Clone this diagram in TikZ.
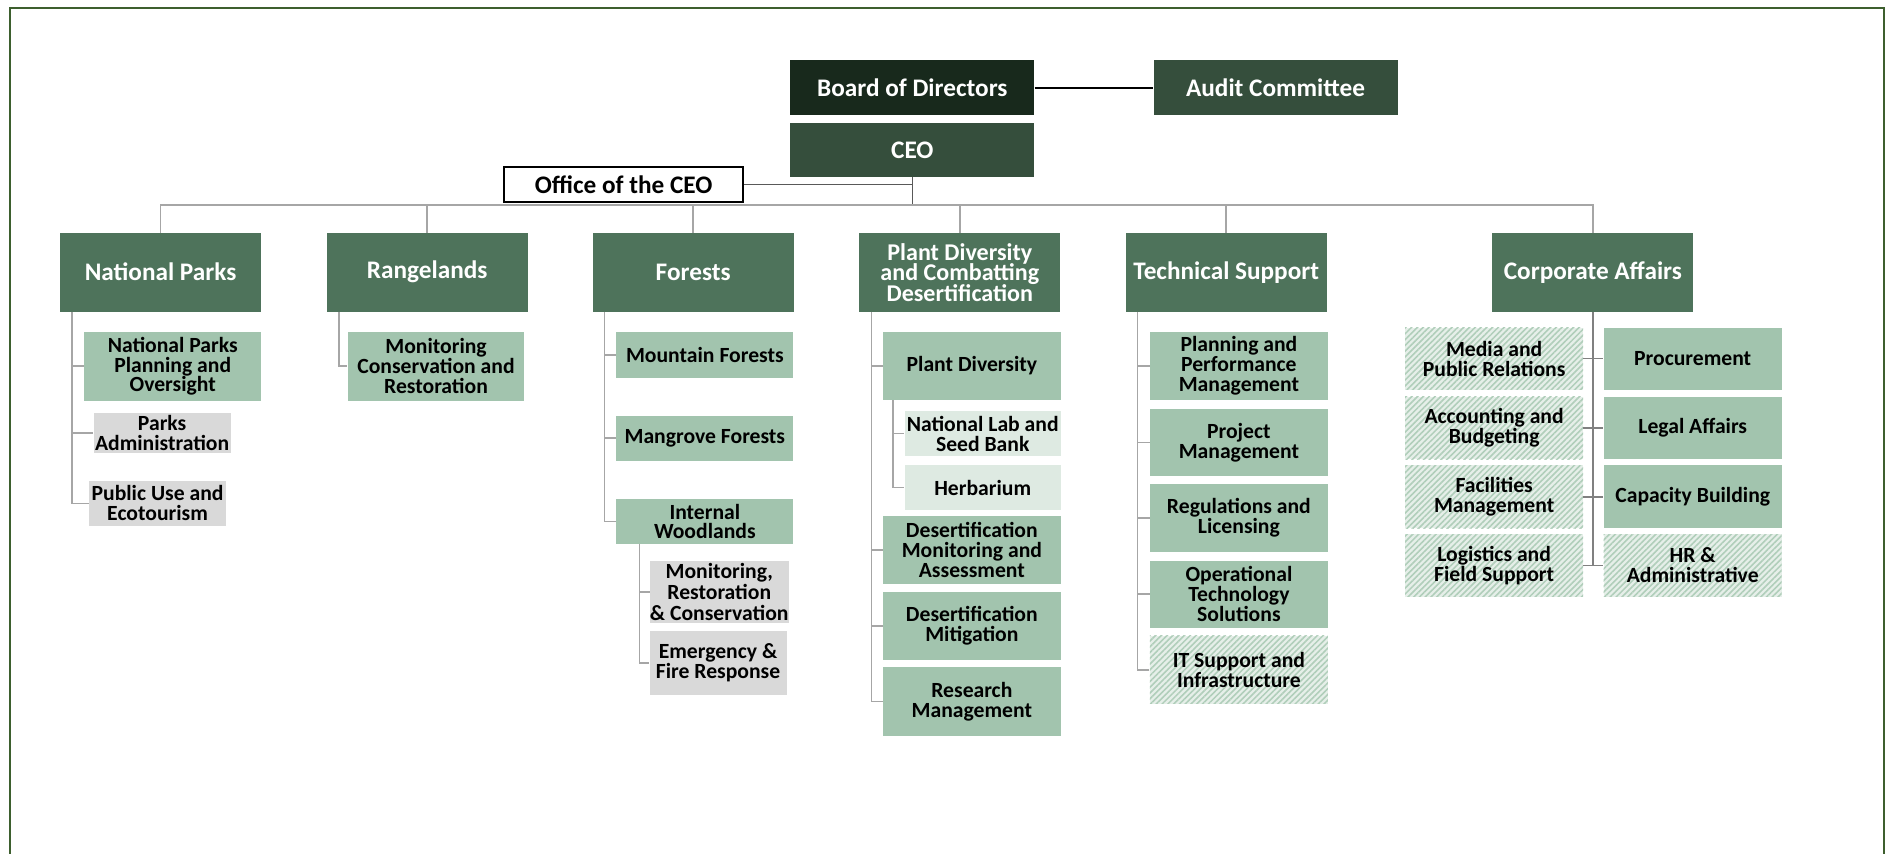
\documentclass[tikz,border=0pt]{standalone}
\usepackage{fontspec}
\setmainfont{Carlito}
\usetikzlibrary{patterns.meta}

\definecolor{boardgreen}{HTML}{18291C}
\definecolor{ceogreen}{HTML}{354E3C}
\definecolor{deptgreen}{HTML}{4E735B}
\definecolor{subgreen}{HTML}{A2C4AE}
\definecolor{palegreen}{HTML}{DEEAE2}
\definecolor{hatchbg}{HTML}{E6EFE9}
\definecolor{hatchline}{HTML}{B0CEBA}
\definecolor{treegrey}{HTML}{A6A6A6}
\definecolor{framegreen}{HTML}{3D5F2E}

\newcommand{\subfont}{\bfseries\fontsize{18}{16.5}\selectfont\lineskiplimit=-20pt\relax}
\newcommand{\deptfont}{\bfseries\fontsize{21}{17.5}\selectfont\lineskiplimit=-20pt\relax}
\newcommand{\pdfont}{\bfseries\fontsize{20}{17}\selectfont\lineskiplimit=-20pt\relax}
\newcommand{\monfont}{\bfseries\fontsize{18}{17.5}\selectfont\lineskiplimit=-20pt\relax}

\begin{document}
\begin{tikzpicture}[x=1pt,y=-1pt,
  every node/.style={inner sep=0pt, align=center, font=\subfont},
  topbox/.style={fill=ceogreen, text=white, minimum width=203pt, minimum height=45.6pt, font=\deptfont},
  dept/.style={fill=deptgreen, text=white, minimum width=167pt, minimum height=65.4pt, font=\deptfont},
  subbox/.style={fill=subgreen, minimum width=148pt, minimum height=56.6pt},
  palebox/.style={fill=palegreen, minimum width=130pt, minimum height=37pt},
  greybox/.style={fill=black!15, minimum width=114pt},
  hatchbox/.style={preaction={fill=hatchbg}, pattern={Lines[angle=45, distance=3.4pt, line width=1.3pt]}, pattern color=hatchline, minimum width=148pt, minimum height=56.6pt},
  tree/.style={draw=treegrey, line width=1.3pt},
]
\useasboundingbox (0,0) rectangle (1568,710);
\draw[framegreen, line width=1.7pt] (8.2,710) -- (8.2,7) -- (1566,7) -- (1566,710);

% top of the chart
\node[topbox, fill=boardgreen] (board) at (758.5,72.8) {Board of Directors};
\node[topbox] (audit) at (1060.5,72.8) {Audit Committee};
\node[topbox, minimum height=44.5pt] (ceo) at (758.5,124.8) {CEO};
\node[draw, line width=1.5pt, fill=white, minimum width=199pt, minimum height=28.7pt, font=\deptfont] (office) at (518.5,153.3) {Office of the CEO};
\coordinate (bus) at (0,170.4);

\draw[line width=1.6pt] (board) -- (audit);
\draw[black!65, line width=1.3pt] (office.east) -- (office.east -| ceo.south);
\draw[black!65, line width=1.3pt] (ceo.south) -- (ceo.south |- bus);

% departments
\node[dept] (np) at (133.5,226.3) {National Parks};
\node[dept] (rl) at (355.2,226.3) {Rangelands};
\node[dept] (fo) at (576.3,226.3) {Forests};
\node[dept, font=\pdfont] (pd) at (798,226.3) {Plant Diversity\\and Combatting\\Desertification};
\node[dept] (ts) at (1019.5,226.3) {Technical Support};
\node[dept] (ca) at (1324.3,226.3) {Corporate Affairs};

\draw[tree] (np.north) -- (np.north |- bus) -| (ca.north);
\foreach \d in {rl,fo,pd,ts}
  \draw[tree] (\d.north) -- (\d.north |- bus);

% national parks
\node[subbox, minimum width=147pt, minimum height=57pt] (npplan) at (143.6,304.5) {National Parks\\Planning and\\Oversight};
\node[greybox, minimum height=34pt] (npadmin) at (134.8,360) {Parks\\Administration};
\node[greybox, minimum height=37pt] (nppublic) at (131,418.5) {Public Use and\\Ecotourism};
\coordinate (npx) at ([xshift=10pt]np.south west);
\draw[tree] (npx) |- (nppublic.west);
\foreach \n in {npplan,npadmin}
  \draw[tree] (\n.west -| npx) -- (\n.west);

% rangelands
\node[subbox, minimum width=147pt, minimum height=57pt] (rlmon) at (362.5,304.5) {Monitoring\\Conservation and\\Restoration};
\draw[tree] ([xshift=10.3pt]rl.south west) |- (rlmon.west);

% forests
\node[subbox, minimum width=147pt, minimum height=38pt] (fomtn) at (586,295) {Mountain Forests};
\node[subbox, minimum width=147pt, minimum height=37.4pt] (foman) at (586,364.3) {Mangrove Forests};
\node[subbox, minimum width=147pt, minimum height=37pt] (foint) at (586,433.5) {Internal\\Woodlands};
\node[greybox, minimum height=51.5pt, font=\monfont] (fomon) at (598,492.3) {Monitoring,\\Restoration\\\& Conservation};
\node[greybox, minimum height=53.4pt] (foemg) at (597,551.3) {Emergency \&\\Fire Response};
\coordinate (fox) at ([xshift=10pt]fo.south west);
\draw[tree] (fox) |- (foint.west);
\foreach \n in {fomtn,foman}
  \draw[tree] (\n.west -| fox) -- (\n.west);
\coordinate (fosub) at ([xshift=19.3pt]foint.south west);
\draw[tree] (fosub) |- (foemg.west);
\draw[tree] (fomon.west -| fosub) -- (fomon.west);

% plant diversity and desertification
\node[subbox] (pdpd) at (808,304.3) {Plant Diversity};
\node[palebox] (pdlab) at (817,360.5) {National Lab and\\Seed Bank};
\node[palebox, minimum height=37.4pt] (pdherb) at (817,405.3) {Herbarium};
\node[subbox, minimum height=56.8pt] (pdmon) at (808,457.1) {Desertification\\Monitoring and\\Assessment};
\node[subbox, minimum height=57pt] (pdmit) at (808,520.5) {Desertification\\Mitigation};
\node[subbox, minimum height=57.4pt] (pdres) at (808,583.3) {Research\\Management};
\coordinate (pdx) at ([xshift=10.2pt]pd.south west);
\draw[tree] (pdx) |- (pdres.west);
\foreach \n in {pdpd,pdmon,pdmit}
  \draw[tree] (\n.west -| pdx) -- (\n.west);
\coordinate (pdsub) at ([xshift=8.6pt]pdpd.south west);
\draw[tree] (pdsub) |- (pdherb.west);
\draw[tree] (pdlab.west -| pdsub) -- (pdlab.west);

% technical support
\node[subbox] (tsplan) at (1030,304.3) {Planning and\\Performance\\Management};
\node[subbox, minimum height=55.7pt] (tsproj) at (1030,367.9) {Project\\Management};
\node[subbox, minimum height=57pt] (tsreg) at (1030,430.5) {Regulations and\\Licensing};
\node[subbox, minimum height=56pt] (tsops) at (1030,494) {Operational\\Technology\\Solutions};
\node[hatchbox, minimum height=56.5pt] (tsit) at (1030,556.8) {IT Support and\\Infrastructure};
\coordinate (tsx) at ([xshift=10pt]ts.south west);
\draw[tree] (tsx) |- (tsit.west);
\foreach \n in {tsplan,tsproj,tsreg,tsops}
  \draw[tree] (\n.west -| tsx) -- (\n.west);

% corporate affairs
\node[hatchbox, minimum height=51.6pt] (camedia) at (1242.2,298.2) {Media and\\Public Relations};
\node[hatchbox, minimum height=51.8pt] (caacc) at (1242.2,355.7) {Accounting and\\Budgeting};
\node[hatchbox, minimum height=52pt] (cafac) at (1242.2,413) {Facilities\\Management};
\node[hatchbox, minimum height=52pt] (calog) at (1242.2,470) {Logistics and\\Field Support};
\node[subbox, minimum height=51.6pt] (caproc) at (1407.3,298.2) {Procurement};
\node[subbox, minimum height=51.8pt] (calegal) at (1407.3,355.7) {Legal Affairs};
\node[subbox, minimum height=52pt] (cacap) at (1407.3,413) {Capacity Building};
\node[hatchbox, minimum height=52pt] (cahr) at (1407.3,470) {HR \&\\Administrative};
\draw[tree, draw=black!50] (ca.south) -- (ca.south |- calog.east);
\foreach \l/\r in {camedia/caproc,caacc/calegal,cafac/cacap,calog/cahr}
  \draw[tree, draw=black!50] (\l.east) -- (\r.west);

\end{tikzpicture}
\end{document}
